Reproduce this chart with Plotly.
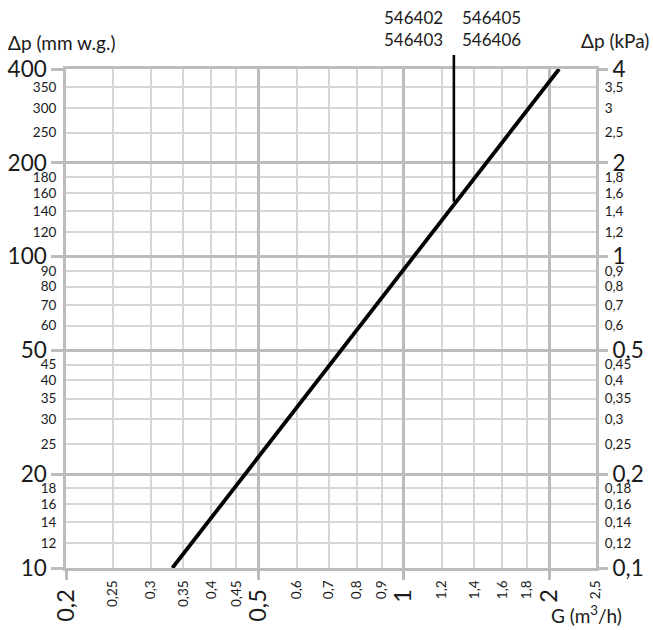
import math
import plotly.graph_objects as go

# ---------------- data ----------------
G_flow = [0.332, 2.097]          # m3/h
dp_mmwg = [10, 400]              # mm w.g.

ref_G = 1.27                     # marker line position (m3/h)
ref_dp = [150, 400]              # vertical marker from curve to top
ref_left_text = "546402<br>546403"
ref_right_text = "546405<br>546406"

x_major = [0.2, 0.5, 1, 2]
x_major_text = ["0,2", "0,5", "1", "2"]
x_minor = [0.25, 0.3, 0.35, 0.4, 0.45, 0.6, 0.7, 0.8, 0.9, 1.2, 1.4, 1.6, 1.8, 2.5]
x_minor_text = [str(v).replace(".", ",") for v in x_minor]

y_major = [10, 20, 50, 100, 200, 400]
y_major_text = [str(v) for v in y_major]
y_minor = [12, 14, 16, 18, 25, 30, 35, 40, 45, 60, 70, 80, 90, 120, 140, 160, 180, 250, 300, 350]
y_minor_text = [str(v) for v in y_minor]

k_major = [0.1, 0.2, 0.5, 1, 2, 4]
k_major_text = ["0,1", "0,2", "0,5", "1", "2", "4"]
k_minor = [0.12, 0.14, 0.16, 0.18, 0.25, 0.3, 0.35, 0.4, 0.45, 0.6, 0.7, 0.8, 0.9,
           1.2, 1.4, 1.6, 1.8, 2.5, 3, 3.5]
k_minor_text = [str(v).replace(".", ",") for v in k_minor]

x_lim = [0.2, 2.5]
y_lim = [10, 400]
k_lim = [0.1, 4]

# ---------------- style ----------------
FONT = "Lato"
MAJ = "#bcbcbc"
MIN = "#d6d6d6"
BIG = 22.5
SMALL = 13.5
eps = 1e-6

def lr(lim):
    return [math.log10(lim[0]) - eps, math.log10(lim[1]) + eps]

fig = go.Figure()

fig.add_trace(go.Scatter(x=G_flow, y=dp_mmwg, mode="lines",
                         line=dict(color="black", width=3.8),
                         xaxis="x", yaxis="y", hoverinfo="skip", showlegend=False))
fig.add_trace(go.Scatter(x=[ref_G, ref_G], y=ref_dp, mode="lines",
                         line=dict(color="black", width=2.6),
                         xaxis="x", yaxis="y", hoverinfo="skip", showlegend=False))
# empty traces so overlay axes are drawn
fig.add_trace(go.Scatter(x=[None], y=[None], xaxis="x", yaxis="y2", showlegend=False, hoverinfo="skip"))
fig.add_trace(go.Scatter(x=[None], y=[None], xaxis="x", yaxis="y3", showlegend=False, hoverinfo="skip"))
fig.add_trace(go.Scatter(x=[None], y=[None], xaxis="x", yaxis="y4", showlegend=False, hoverinfo="skip"))
fig.add_trace(go.Scatter(x=[None], y=[None], xaxis="x2", yaxis="y", showlegend=False, hoverinfo="skip"))

# vertical stub above the plot area
fig.add_shape(type="line", xref="x", yref="paper", x0=ref_G, x1=ref_G, y0=1, y1=1.028,
              line=dict(color="black", width=2.6))

common = dict(automargin=False, fixedrange=True, zeroline=False)

fig.update_layout(
    width=653, height=630,
    margin=dict(l=66, r=57, t=69, b=62, autoexpand=False),
    paper_bgcolor="white", plot_bgcolor="white",
    font=dict(family=FONT, color="#1a1a1a"),
    showlegend=False,
    xaxis=dict(type="log", range=lr(x_lim), tickmode="array", tickvals=x_major, ticktext=x_major_text,
               tickangle=-90, tickfont=dict(size=BIG + 1), ticks="outside", ticklen=9, tickwidth=2.5,
               tickcolor=MAJ, showgrid=True, gridcolor=MAJ, gridwidth=2.5,
               minor=dict(tickmode="array", tickvals=x_minor, showgrid=True, gridcolor=MIN, gridwidth=1.5, ticks=""),
               showline=True, linecolor=MAJ, linewidth=2.5, mirror=True, **common),
    xaxis2=dict(type="log", range=lr(x_lim), overlaying="x", anchor="y", side="bottom",
                tickmode="array", tickvals=x_minor, ticktext=x_minor_text, tickangle=-90,
                tickfont=dict(size=SMALL), ticks="outside", ticklen=6, tickcolor="rgba(0,0,0,0)",
                showgrid=False, showline=False, **common),
    yaxis=dict(type="log", range=lr(y_lim), tickmode="array", tickvals=y_major, ticktext=y_major_text,
               tickfont=dict(size=BIG), ticks="outside", ticklen=12, tickwidth=2.5, tickcolor=MAJ,
               showgrid=True, gridcolor=MAJ, gridwidth=2.5,
               minor=dict(tickmode="array", tickvals=y_minor, showgrid=True, gridcolor=MIN, gridwidth=1.5, ticks=""),
               showline=True, linecolor=MAJ, linewidth=2.5, mirror=True, **common),
    yaxis3=dict(type="log", range=lr(y_lim), overlaying="y", anchor="x", side="left",
                tickmode="array", tickvals=y_minor, ticktext=y_minor_text, tickfont=dict(size=SMALL),
                ticks="outside", ticklen=6, tickcolor="rgba(0,0,0,0)",
                showgrid=False, showline=False, **common),
    yaxis2=dict(type="log", range=lr(k_lim), overlaying="y", anchor="x", side="right",
                tickmode="array", tickvals=k_major, ticktext=k_major_text, tickfont=dict(size=BIG),
                ticks="outside", ticklen=11, tickwidth=2.5, tickcolor=MAJ,
                showgrid=False, showline=False, **common),
    yaxis4=dict(type="log", range=lr(k_lim), overlaying="y", anchor="x", side="right",
                tickmode="array", tickvals=k_minor, ticktext=k_minor_text, tickfont=dict(size=SMALL),
                ticks="outside", ticklen=5, tickcolor="rgba(0,0,0,0)",
                showgrid=False, showline=False, **common),
)

ann_font = dict(family=FONT, size=17, color="#1a1a1a")
fig.add_annotation(x=math.log10(ref_G), xref="x", y=1.082, yref="paper", text=ref_left_text,
                   xanchor="right", yanchor="middle", align="right", showarrow=False,
                   xshift=-9, font=ann_font)
fig.add_annotation(x=math.log10(ref_G), xref="x", y=1.082, yref="paper", text=ref_right_text,
                   xanchor="left", yanchor="middle", align="left", showarrow=False,
                   xshift=6, font=ann_font)

title_font = dict(family=FONT, size=19, color="#1a1a1a")
fig.add_annotation(x=-0.113, xref="paper", y=1.054, yref="paper", text="Δp (mm w.g.)",
                   xanchor="left", yanchor="middle", showarrow=False, font=title_font)
fig.add_annotation(x=1.104, xref="paper", y=1.058, yref="paper", text="Δp (kPa)",
                   xanchor="right", yanchor="middle", showarrow=False, font=title_font)
fig.add_annotation(x=1.053, xref="paper", y=-0.094, yref="paper", text="G (m<sup>3</sup>/h)",
                   xanchor="right", yanchor="middle", showarrow=False, font=title_font)

fig.write_html("out.html", config={"displayModeBar": False},
               post_script="document.body.style.margin='0';document.body.style.overflow='hidden';")
